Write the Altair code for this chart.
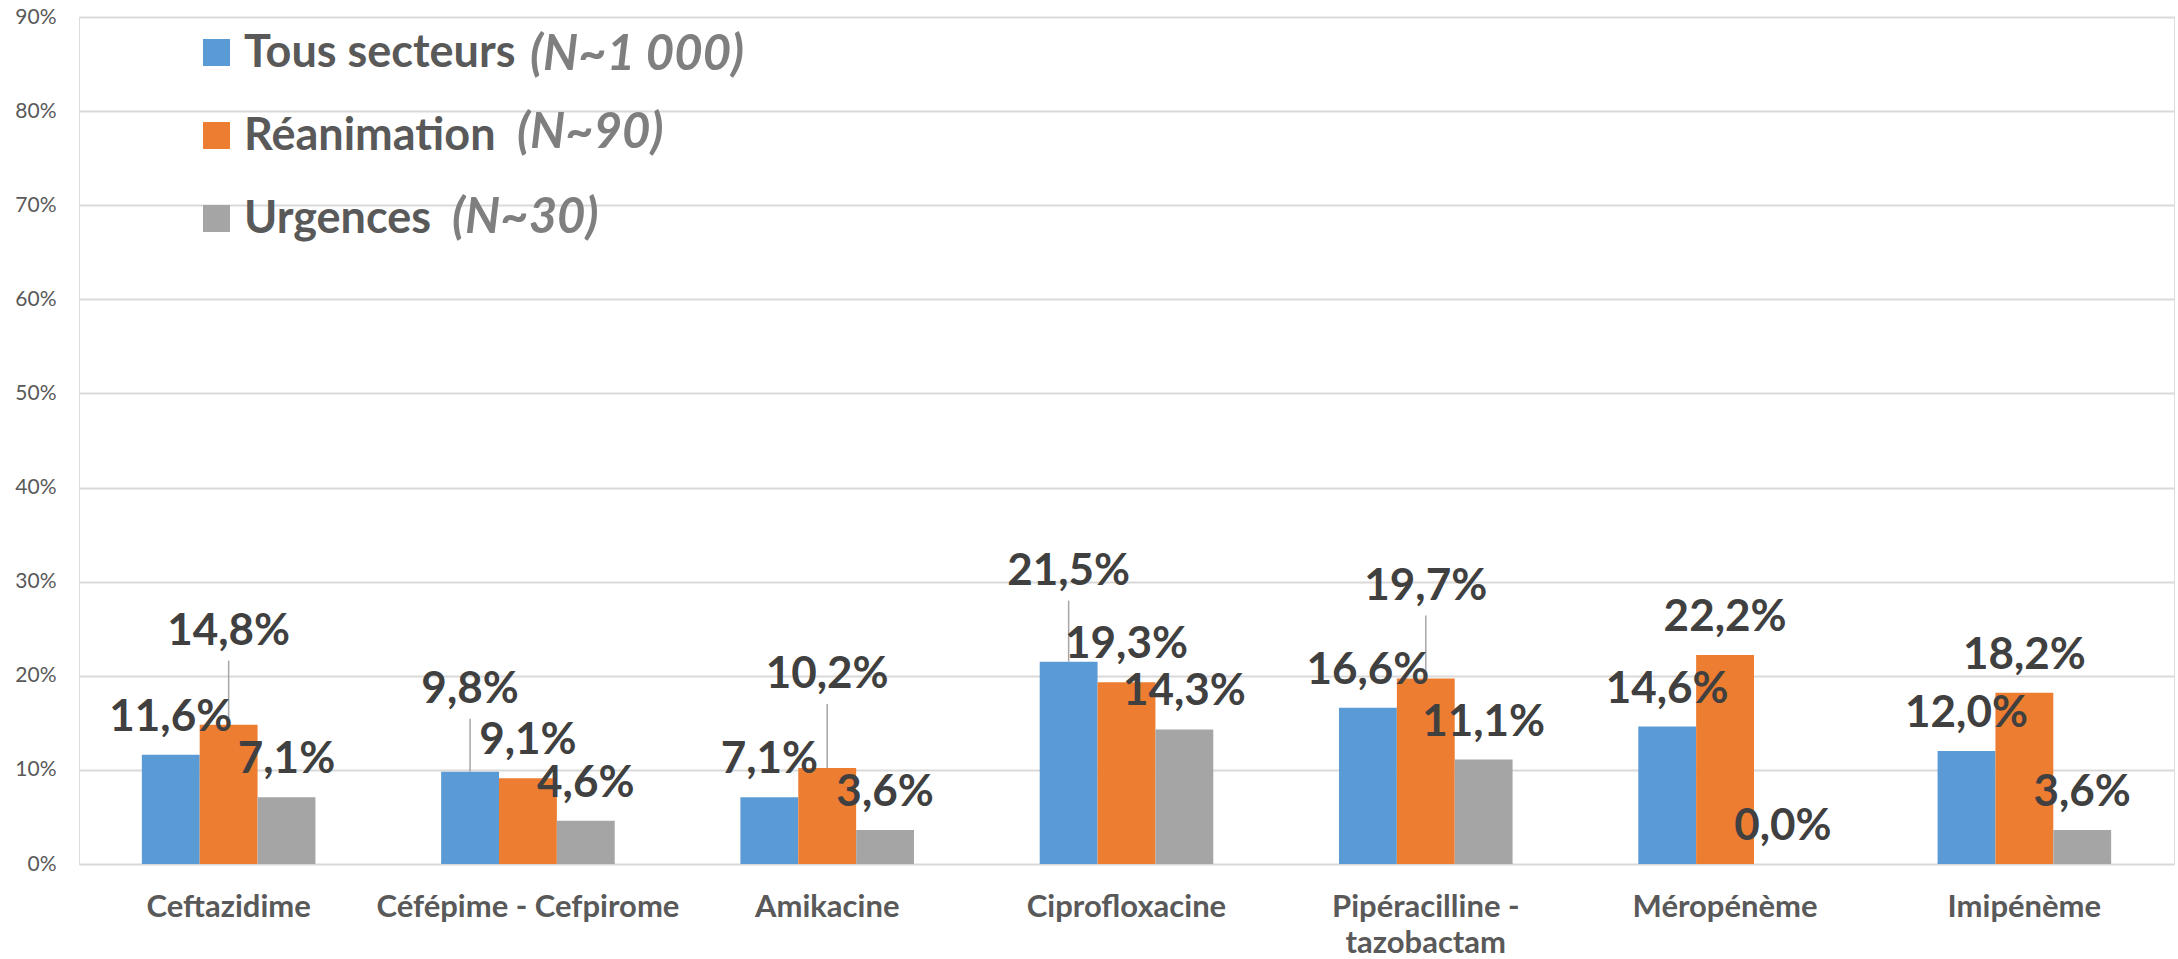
import altair as alt
import pandas as pd

# ---- data ----
categories = ["Ceftazidime", "Céfépime - Cefpirome", "Amikacine", "Ciprofloxacine",
              "Pipéracilline - tazobactam", "Méropénème", "Imipénème"]
series_names = ["Tous secteurs", "Réanimation", "Urgences"]
series_n = ["(N~1 000)", "(N~90)", "(N~30)"]
tous = [11.6, 9.8, 7.1, 21.5, 16.6, 14.6, 12.0]
rea = [14.8, 9.1, 10.2, 19.3, 19.7, 22.2, 18.2]
urg = [7.1, 4.6, 3.6, 14.3, 11.1, 0.0, 3.6]
y_ticks = [0, 10, 20, 30, 40, 50, 60, 70, 80, 90]

# ---- label layout (extra lift in px for labels moved by hand, with leader line) ----
lift_tous = [0, 45, 0, 53, 0, 0, 0]
lift_rea = [56, 0, 56, 0, 55, 0, 0]
lift_urg = [0, 0, 0, 0, 0, 0, 0]

colors = ["#5b9bd5", "#ed7d31", "#a5a5a5"]
W, H = 2095, 847
YMAX = 90
ppu = H / YMAX  # pixels per percentage point

rows = []
for s, vals, lifts in zip(series_names, [tous, rea, urg], [lift_tous, lift_rea, lift_urg]):
    for c, v, l in zip(categories, vals, lifts):
        rows.append({
            "cat": c, "series": s, "value": v,
            "label": f"{v:.1f}".replace(".", ",") + "%",
            "label_y": v + l / ppu,
            "lead_top": v + (l + 8) / ppu if l > 0 else v,
            "moved": l > 0,
        })
df = pd.DataFrame(rows)

FONT = "Lato"
x_enc = alt.X("cat:N", sort=categories,
              scale=alt.Scale(paddingInner=0.42, paddingOuter=0.21),
              axis=alt.Axis(title=None, labelAngle=0, ticks=False, domain=False, grid=False,
                            labelFont=FONT, labelFontWeight="bold", labelFontSize=31,
                            labelColor="#595959", labelPadding=28, labelLimit=0,
                            labelLineHeight=36,
                            labelExpr="datum.label == 'Pipéracilline - tazobactam' ? ['Pipéracilline -', 'tazobactam'] : datum.label"))
xo_enc = alt.XOffset("series:N", sort=series_names, scale=alt.Scale(domain=series_names))
y_scale = alt.Scale(domain=[0, YMAX], nice=False)

base = alt.Chart(df)

bars = base.mark_bar().encode(
    x=x_enc,
    xOffset=xo_enc,
    y=alt.Y("value:Q", scale=y_scale,
            axis=alt.Axis(title=None, values=y_ticks, labelExpr="datum.value + '%'",
                          ticks=False, domain=False, grid=True, gridColor="#d9d9d9",
                          gridWidth=2, labelFont=FONT, labelFontSize=21,
                          labelColor="#595959", labelPadding=23,
                          minExtent=79, maxExtent=79)),
    color=alt.Color("series:N", scale=alt.Scale(domain=series_names, range=colors),
                    legend=alt.Legend(orient="none", legendX=115, legendY=13, title=None,
                                      symbolType="square", symbolSize=729,
                                      symbolStrokeWidth=0, labelFont=FONT,
                                      labelFontWeight="bold", labelFontSize=45,
                                      labelColor="#595959", labelOffset=5,
                                      rowPadding=37, padding=0, labelLimit=0)),
)

leaders = base.transform_filter("datum.moved").mark_rule(color="#a6a6a6", strokeWidth=1.5).encode(
    x=x_enc, xOffset=xo_enc,
    y=alt.Y("value:Q", scale=y_scale),
    y2="lead_top:Q",
)

labels = base.mark_text(font=FONT, fontWeight="bold", fontSize=44, color="#404040",
                        baseline="alphabetic", align="center", dy=-24).encode(
    x=x_enc, xOffset=xo_enc,
    y=alt.Y("label_y:Q", scale=y_scale),
    text="label:N",
)

# N annotations next to the legend entries
n_pos = [(451, 53), (438, 131), (373, 216)]
n_layers = []
for txt, (px, py) in zip(series_n, n_pos):
    n_layers.append(
        alt.Chart(pd.DataFrame({"t": [txt]})).mark_text(
            font=FONT, fontWeight="bold", fontStyle="italic", fontSize=49,
            color="#7f7f7f", align="left", baseline="alphabetic").encode(
            x=alt.value(px), y=alt.value(py), text="t:N")
    )

chart = alt.layer(bars, leaders, labels, *n_layers).properties(
    width=W, height=H,
    autosize=alt.AutoSizeParams(type="none"),
    padding={"left": 79, "top": 17, "right": 4, "bottom": 95},
).configure_view(stroke=None).configure(background="white")

chart.save("out.html", embed_options={"renderer": "svg", "actions": False})
